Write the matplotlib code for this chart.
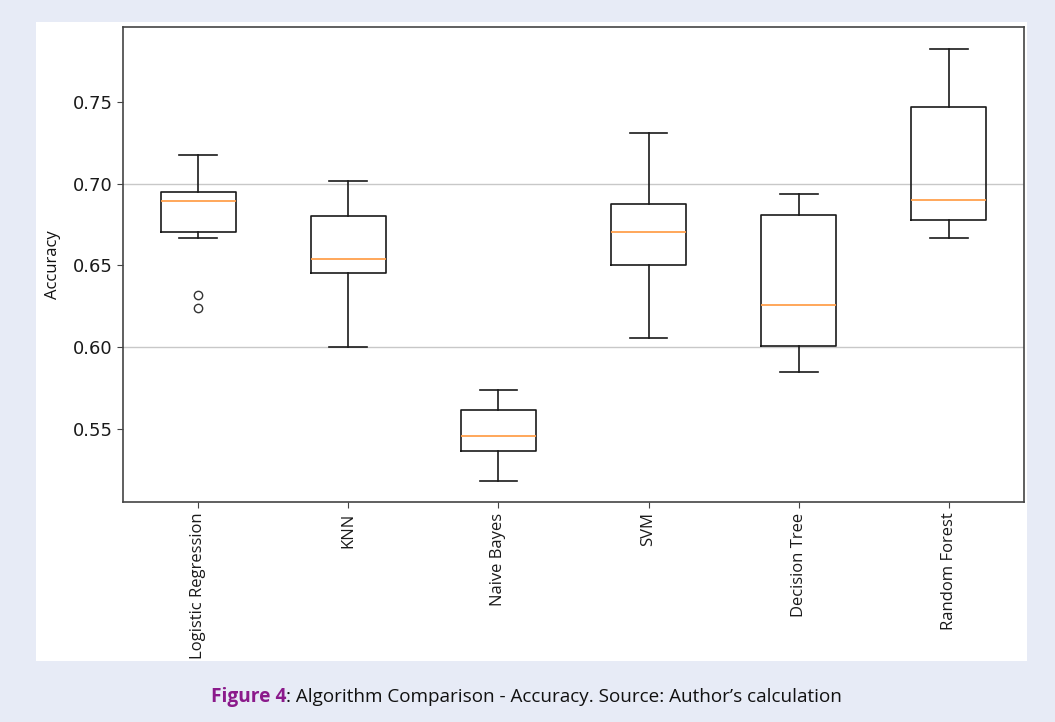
import matplotlib
matplotlib.use("Agg")
import matplotlib.pyplot as plt
from matplotlib.patches import Rectangle

# ---- data ----
models = ["Logistic Regression", "KNN", "Naive Bayes", "SVM", "Decision Tree", "Random Forest"]
whisker_low = [0.6666, 0.6000, 0.5180, 0.6052, 0.5844, 0.6666]
q1 = [0.6703, 0.6453, 0.5363, 0.6500, 0.6003, 0.6777]
median = [0.6893, 0.6538, 0.5455, 0.6703, 0.6256, 0.6899]
q3 = [0.6948, 0.6801, 0.5614, 0.6875, 0.6807, 0.7469]
whisker_high = [0.7174, 0.7015, 0.5736, 0.7309, 0.6936, 0.7824]
outliers = [[0.6318, 0.6238], [], [], [], [], []]
y_ticks = [0.55, 0.60, 0.65, 0.70, 0.75]
grid_levels = [0.60, 0.70]
caption_bold = "Figure 4"
caption_rest = ": Algorithm Comparison - Accuracy. Source: Author\u2019s calculation"

W, H = 1055, 722
fig = plt.figure(figsize=(W / 100, H / 100), dpi=100)
fig.patch.set_facecolor("#e7ebf6")

# white inner panel
panel = Rectangle((36 / W, 1 - 661 / H), (1027 - 36) / W, (661 - 22) / H,
                  transform=fig.transFigure, facecolor="white",
                  edgecolor="none", zorder=-10)
fig.patches.append(panel)

ax = fig.add_axes([123 / W, 1 - 502 / H, (1024 - 123) / W, (502 - 27) / H])
ax.set_zorder(5)
ax.set_facecolor("white")

stats = []
for i, m in enumerate(models):
    stats.append(dict(label=m, whislo=whisker_low[i], q1=q1[i], med=median[i],
                      q3=q3[i], whishi=whisker_high[i], fliers=outliers[i]))

ax.bxp(stats, widths=0.5,
       boxprops=dict(color="#1a1a1a", linewidth=1.2),
       whiskerprops=dict(color="#1a1a1a", linewidth=1.2),
       capprops=dict(color="#1a1a1a", linewidth=1.2),
       medianprops=dict(color="#ffa04d", linewidth=1.3),
       flierprops=dict(marker="o", markerfacecolor="none", markeredgecolor="#333333",
                       markersize=6, markeredgewidth=1.0))

for g in grid_levels:
    ax.axhline(g, color="#c8c8c8", linewidth=1.0, zorder=0)

ax.set_xlim(0.5, 6.5)
ax.set_ylim(0.5051, 0.7958)
ax.set_yticks(y_ticks)
ax.set_yticklabels([f"{v:.2f}" for v in y_ticks], fontsize=13, color="#1a1a1a",
                   family="DejaVu Sans")
ax.set_xticklabels(models, rotation=90, fontsize=12, family="Open Sans", color="#111111")
ax.set_ylabel("Accuracy", fontsize=12, family="Open Sans", color="#111111", labelpad=8)
for s in ax.spines.values():
    s.set_color("#444444")
    s.set_linewidth(1.2)
ax.tick_params(colors="#444444", length=4)
ax.tick_params(axis="both", labelcolor="#1a1a1a")

# caption
cy = 1 - 697 / H
t1 = fig.text(211 / W, cy, caption_bold, color="#8b1a8b", fontsize=13.8,
              fontweight="bold", ha="left", va="center", family="Open Sans")
fig.canvas.draw()
bb = t1.get_window_extent()
fig.text(bb.x1 / W, cy, caption_rest, color="#111111", fontsize=13.6,
         ha="left", va="center", family="Open Sans")
fig.savefig("out.png", dpi=100, facecolor=fig.get_facecolor())
